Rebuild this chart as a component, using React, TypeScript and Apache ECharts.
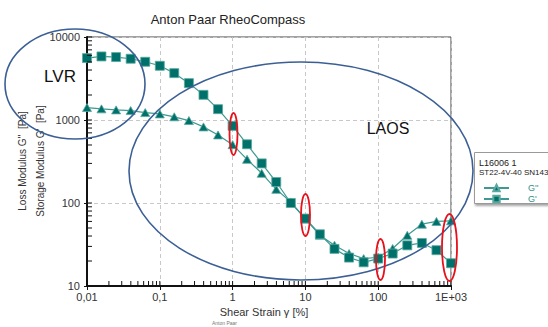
import React, { useEffect, useRef } from "react";
import * as echarts from "echarts";

// Shear strain [%]
const strain = [
  0.01, 0.0158, 0.0251, 0.0398, 0.0631, 0.1, 0.158, 0.251, 0.398, 0.631, 1, 1.58, 2.51, 3.98, 6.31, 10, 15.8,
  25.1, 39.8, 63.1, 100, 158, 251, 398, 631, 1000,
];
// Storage modulus G' [Pa]
const storageModulus = [
  5570, 5830, 5730, 5470, 5030, 4500, 3670, 2780, 2010, 1350, 850, 510, 300, 179, 100, 65, 42, 28, 22, 19.3,
  21.4, 24.6, 30.9, 33, 27, 18.8,
];
// Loss modulus G'' [Pa]
const lossModulus = [
  1413, 1362, 1324, 1300, 1228, 1185, 1093, 985, 826, 661, 505, 336, 228, 146, 103, 64, 41, 31, 24.6, 21.4, 22.2,
  28.3, 40.8, 55.6, 60, 61,
];

const xMajorTicks = [0.01, 0.1, 1, 10, 100, 1000];
const xTickLabels = ["0,01", "0,1", "1", "10", "100", "1E+03"];
const yMajorTicks = [10, 100, 1000, 10000];
const yTickLabels = ["10", "100", "1000", "10000"];

const FONT = "Liberation Sans, Arial, sans-serif";
const TEAL_FILL = "#00716a";
const TEAL_BORDER = "#5aa8a0";
const TEAL_LINE = "#3d9a92";

function minorValues(majors: number[]) {
  const out: number[] = [];
  for (let i = 0; i < majors.length - 1; i++) {
    for (let k = 2; k <= 9; k++) out.push(majors[i] * k);
  }
  return out;
}

function labelFor(v: number, majors: number[], labels: string[]) {
  const i = majors.findIndex((t) => Math.abs(Math.log10(t) - Math.log10(v)) < 1e-6);
  return i >= 0 ? labels[i] : "";
}

export default function App() {
  const ref = useRef<HTMLDivElement>(null);

  useEffect(() => {
    if (!ref.current) return;
    const chart = echarts.init(ref.current, null, { renderer: "svg" });

    const xInside = minorValues(xMajorTicks).concat(xMajorTicks);
    const yInside = minorValues(yMajorTicks).concat(yMajorTicks);
    const xMin = xMajorTicks[0];
    const yMin = yMajorTicks[0];

    const textStyleBase = { fontFamily: FONT, color: "#333", fontSize: 11 };

    const tickSeries = (data: number[][], horizontal: boolean) => ({
      type: "custom",
      silent: true,
      clip: false,
      z: 6,
      data,
      renderItem: (params: any, api: any) => {
        const p = api.coord([api.value(0), api.value(1)]);
        return {
          type: "line",
          shape: horizontal
            ? { x1: p[0], y1: p[1], x2: p[0] + 5, y2: p[1] }
            : { x1: p[0], y1: p[1], x2: p[0], y2: p[1] - 5 },
          style: { stroke: "#111", lineWidth: 1 },
        };
      },
    });

    const option: any = {
      animation: false,
      backgroundColor: "#fff",
      textStyle: { fontFamily: FONT },
      grid: {
        left: 87,
        right: 97,
        top: 37,
        bottom: 41,
        show: true,
        borderColor: "#444",
        borderWidth: 1,
        backgroundColor: "transparent",
      },
      xAxis: {
        type: "log",
        logBase: 10,
        min: 0.01,
        max: 1000,
        position: "bottom",
        axisLine: { show: true, onZero: false, lineStyle: { color: "#111", width: 2 } },
        axisTick: { show: true, length: 4, lineStyle: { color: "#111", width: 1 } },
        minorTick: { show: false },
        axisLabel: {
          ...textStyleBase,
          margin: 5,
          formatter: (v: number) => labelFor(v, xMajorTicks, xTickLabels),
        },
        splitLine: { show: true, lineStyle: { color: "#c8c8c8", type: [4, 3], width: 1 } },
      },
      yAxis: {
        type: "log",
        logBase: 10,
        min: 10,
        max: 10000,
        position: "left",
        axisLine: { show: true, onZero: false, lineStyle: { color: "#111", width: 2 } },
        axisTick: { show: true, length: 3, lineStyle: { color: "#111", width: 1 } },
        minorTick: { show: false },
        axisLabel: {
          ...textStyleBase,
          margin: 7,
          formatter: (v: number) => labelFor(v, yMajorTicks, yTickLabels),
        },
        splitLine: { show: true, lineStyle: { color: "#c8c8c8", type: [4, 3], width: 1 } },
      },
      legend: {
        show: true,
        orient: "vertical",
        left: 478,
        top: 178,
        itemWidth: 25,
        itemHeight: 8,
        itemGap: 1,
        selectedMode: false,
        data: ["G''", "G'"],
        textStyle: {
          fontFamily: FONT,
          fontSize: 9,
          color: "#2d8f87",
          lineHeight: 10,
          padding: [0, 0, 0, 14],
        },
        z: 20,
      },
      series: [
        {
          name: "G''",
          type: "line",
          data: strain.map((x, i) => [x, lossModulus[i]]),
          symbol: "triangle",
          symbolSize: [9, 8],
          showAllSymbol: true,
          lineStyle: { color: TEAL_LINE, width: 1.2 },
          itemStyle: { color: TEAL_FILL, borderColor: TEAL_BORDER, borderWidth: 0.8 },
          z: 3,
        },
        {
          name: "G'",
          type: "line",
          data: strain.map((x, i) => [x, storageModulus[i]]),
          symbol: "rect",
          symbolSize: 9,
          showAllSymbol: true,
          lineStyle: { color: TEAL_LINE, width: 1.2 },
          itemStyle: { color: TEAL_FILL, borderColor: TEAL_BORDER, borderWidth: 0.8 },
          z: 4,
        },
        tickSeries(
          xInside.map((v) => [v, yMin]),
          false
        ),
        tickSeries(
          yInside.map((v) => [xMin, v]),
          true
        ),
      ],
      graphic: [
        {
          type: "text",
          x: 228,
          y: 19,
          z: 10,
          style: {
            text: "Anton Paar RheoCompass",
            fontFamily: FONT,
            fontSize: 13,
            fill: "#222",
            align: "center",
            verticalAlign: "middle",
          },
        },
        {
          type: "text",
          x: 22,
          y: 161,
          rotation: Math.PI / 2,
          z: 10,
          style: {
            text: "Loss Modulus G''  [Pa]",
            fontFamily: FONT,
            fontSize: 10,
            fill: "#333",
            align: "center",
            verticalAlign: "middle",
          },
        },
        {
          type: "text",
          x: 40,
          y: 161,
          rotation: Math.PI / 2,
          z: 10,
          style: {
            text: "Storage Modulus G'  [Pa]",
            fontFamily: FONT,
            fontSize: 10,
            fill: "#333",
            align: "center",
            verticalAlign: "middle",
          },
        },
        {
          type: "text",
          x: 264,
          y: 312,
          z: 10,
          style: {
            text: "Shear Strain γ [%]",
            fontFamily: FONT,
            fontSize: 11,
            fill: "#333",
            align: "center",
            verticalAlign: "middle",
          },
        },
        {
          type: "text",
          x: 212,
          y: 323,
          z: 10,
          style: {
            text: "Anton Paar",
            fontFamily: FONT,
            fontSize: 5,
            fill: "#777",
            align: "left",
            verticalAlign: "middle",
          },
        },
        // legend box
        {
          type: "rect",
          z: 1,
          shape: { x: 474.5, y: 152.5, width: 90, height: 51 },
          style: {
            fill: "#fff",
            stroke: "#9a9a9a",
            lineWidth: 1,
            shadowBlur: 2,
            shadowOffsetX: 1,
            shadowOffsetY: 2,
            shadowColor: "rgba(0,0,0,0.35)",
          },
        },
        {
          type: "text",
          x: 479,
          y: 162.5,
          z: 10,
          style: { text: "L16006 1", fontFamily: FONT, fontSize: 9, fill: "#222", verticalAlign: "middle" },
        },
        {
          type: "text",
          x: 479,
          y: 172.5,
          z: 10,
          style: {
            text: "ST22-4V-40 SN143",
            fontFamily: FONT,
            fontSize: 8,
            fill: "#222",
            verticalAlign: "middle",
          },
        },
        // annotation ellipses
        {
          type: "ellipse",
          z: 15,
          shape: { cx: 75, cy: 84, rx: 70, ry: 55 },
          style: { fill: "none", stroke: "#3b5f95", lineWidth: 1.6 },
        },
        {
          type: "ellipse",
          z: 15,
          shape: { cx: 301, cy: 171, rx: 172, ry: 109 },
          style: { fill: "none", stroke: "#3b5f95", lineWidth: 1.6 },
        },
        {
          type: "ellipse",
          z: 15,
          shape: { cx: 233.5, cy: 134, rx: 4, ry: 21 },
          style: { fill: "none", stroke: "#e8101a", lineWidth: 1.8 },
        },
        {
          type: "ellipse",
          z: 15,
          shape: { cx: 305.5, cy: 215, rx: 4.5, ry: 21 },
          style: { fill: "none", stroke: "#e8101a", lineWidth: 1.8 },
        },
        {
          type: "ellipse",
          z: 15,
          shape: { cx: 380.5, cy: 259.5, rx: 4.5, ry: 20.5 },
          style: { fill: "none", stroke: "#e8101a", lineWidth: 1.8 },
        },
        {
          type: "ellipse",
          z: 15,
          shape: { cx: 449.5, cy: 247.5, rx: 7.5, ry: 33.5 },
          style: { fill: "none", stroke: "#e8101a", lineWidth: 1.8 },
        },
        {
          type: "text",
          x: 60,
          y: 76,
          z: 15,
          style: {
            text: "LVR",
            fontFamily: FONT,
            fontSize: 17,
            fill: "#111",
            align: "center",
            verticalAlign: "middle",
          },
        },
        {
          type: "text",
          x: 388,
          y: 128,
          z: 15,
          style: {
            text: "LAOS",
            fontFamily: FONT,
            fontSize: 16,
            fill: "#111",
            align: "center",
            verticalAlign: "middle",
          },
        },
      ],
    };

    chart.setOption(option);
    return () => chart.dispose();
  }, []);

  return (
    <div
      ref={ref}
      style={{ position: "fixed", left: 0, top: 0, width: 548, height: 327, background: "#fff" }}
    />
  );
}
